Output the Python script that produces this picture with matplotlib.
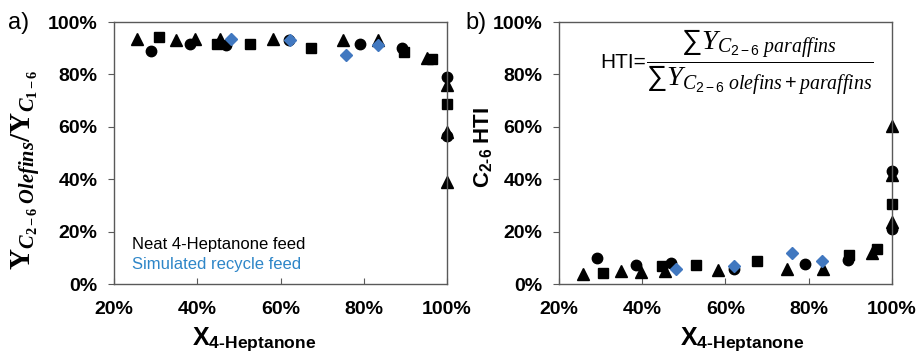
import matplotlib
matplotlib.use("Agg")
import matplotlib.pyplot as plt
from matplotlib.ticker import FuncFormatter, MultipleLocator

plt.rcParams.update({
    "font.family": "Liberation Sans",
    "mathtext.fontset": "custom",
    "mathtext.rm": "Liberation Sans",
    "mathtext.bf": "Liberation Sans:bold",
    "mathtext.it": "Liberation Serif:italic",
    "mathtext.bfit": "Liberation Serif:bold:italic",
    "mathtext.sf": "Liberation Serif:bold",
})

BLUE = "#4178C0"
BLUE_TXT = "#2E86C8"
FRAME = "#595959"

# panel a: C2-6 olefin selectivity vs conversion (%)
a_tri_x = [25.6, 35.0, 39.5, 45.4, 58.2, 75.0, 83.4, 95.3, 100, 100, 100]
a_tri_y = [93.7, 93.3, 93.7, 93.7, 93.4, 93.0, 93.0, 86.4, 75.8, 58.0, 39.1]
a_sq_x = [30.7, 44.7, 52.7, 67.4, 89.6, 96.5, 100]
a_sq_y = [94.3, 91.8, 91.8, 90.2, 88.6, 85.9, 68.7]
a_ci_x = [29.0, 38.3, 47.0, 62.0, 79.0, 89.3, 100, 100]
a_ci_y = [89.0, 91.5, 91.1, 93.0, 91.5, 90.1, 79.1, 56.6]
a_di_x = [48.0, 62.2, 75.8, 83.3]
a_di_y = [93.7, 93.2, 87.6, 91.1]

# panel b: C2-6 HTI vs conversion (%)
b_tri_x = [25.8, 35.0, 39.6, 45.4, 58.2, 74.8, 83.5, 95.1, 100, 100, 100]
b_tri_y = [3.9, 4.8, 4.6, 4.8, 5.4, 5.7, 5.8, 11.8, 60.3, 41.6, 23.5]
b_sq_x = [30.6, 44.8, 53.0, 67.5, 89.7, 96.3, 100]
b_sq_y = [4.2, 6.7, 7.1, 8.6, 10.9, 13.5, 30.5]
b_ci_x = [29.1, 38.4, 47.0, 62.1, 79.1, 89.5, 100, 100]
b_ci_y = [9.9, 7.3, 8.0, 5.8, 7.6, 9.0, 43.0, 21.0]
b_di_x = [48.2, 62.1, 75.9, 83.1]
b_di_y = [5.8, 6.7, 12.0, 8.6]

pct = FuncFormatter(lambda v, p: f"{v:.0f}%")


def style(ax, xlab_x):
    ax.set_xlim(20, 100)
    ax.set_ylim(0, 100)
    ax.xaxis.set_major_locator(MultipleLocator(20))
    ax.yaxis.set_major_locator(MultipleLocator(20))
    ax.xaxis.set_major_formatter(pct)
    ax.yaxis.set_major_formatter(pct)
    for s in ax.spines.values():
        s.set_color(FRAME)
        s.set_linewidth(1.0)
    ax.tick_params(axis="x", direction="in", length=4, color=FRAME, pad=12)
    ax.tick_params(axis="y", direction="out", length=4, color=FRAME, pad=8)
    for lab in ax.get_xticklabels() + ax.get_yticklabels():
        lab.set_fontsize(14)
        lab.set_fontweight("bold")
    ax.set_xlabel(r"$\mathbf{X}_{\mathbf{4‐Heptanone}}$", fontsize=18)
    ax.xaxis.set_label_coords(xlab_x, -0.16)


def draw(ax, tx, ty, sx, sy, cx, cy, dx, dy):
    ax.plot(tx, ty, "^", color="black", ms=8.5, ls="none", clip_on=False)
    ax.plot(sx, sy, "s", color="black", ms=7.5, ls="none", clip_on=False)
    ax.plot(cx, cy, "o", color="black", ms=7.5, ls="none", clip_on=False)
    ax.plot(dx, dy, "D", color=BLUE, ms=6, ls="none", clip_on=False)


fig = plt.figure(figsize=(9.17, 3.56), dpi=100)
ax1 = fig.add_axes([0.1243, 0.2022, 0.3632, 0.7358])
ax2 = fig.add_axes([0.6096, 0.2022, 0.3631, 0.7358])

draw(ax1, a_tri_x, a_tri_y, a_sq_x, a_sq_y, a_ci_x, a_ci_y, a_di_x, a_di_y)
draw(ax2, b_tri_x, b_tri_y, b_sq_x, b_sq_y, b_ci_x, b_ci_y, b_di_x, b_di_y)
style(ax1, 0.42)
style(ax2, 0.55)

ax1.set_ylabel(r"$\mathsf{Y}_{\mathbfit{C}_{\mathsf{2-6}}\ \mathbfit{Olefins}}\mathsf{/Y}_{\mathbfit{C}_{\mathsf{1-6}}}$",
               fontsize=21, labelpad=0)
ax1.yaxis.set_label_coords(-0.215, 0.435)
ax2.set_ylabel(r"$\mathbf{C}_{\mathbf{2‐6}}\ \mathbf{HTI}$", fontsize=16, labelpad=0)
ax2.yaxis.set_label_coords(-0.195, 0.52)

ax1.text(0.054, 0.149, "Neat 4-Heptanone feed", transform=ax1.transAxes,
         fontsize=12, color="black", va="center")
ax1.text(0.054, 0.073, "Simulated recycle feed", transform=ax1.transAxes,
         fontsize=12, color=BLUE_TXT, va="center")

ax2.text(0.262, 0.845, "HTI=", transform=ax2.transAxes, fontsize=15,
         ha="right", va="center")
ax2.text(0.262, 0.845,
         r"$\dfrac{\sum Y_{C_{2-6}\ paraffins}}{\sum Y_{C_{2-6}\ olefins+paraffins}}$",
         transform=ax2.transAxes, fontsize=20.5, ha="left", va="center")

fig.text(0.009, 0.935, "a)", fontsize=17, va="center")
fig.text(0.508, 0.935, "b)", fontsize=17, va="center")

fig.savefig("out.png", dpi=100)
